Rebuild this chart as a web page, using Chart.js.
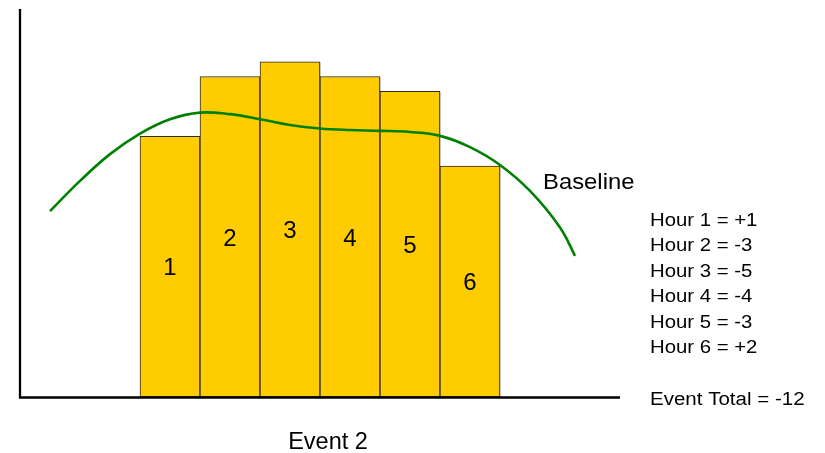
<!DOCTYPE html>
<html>
<head>
<meta charset="utf-8">
<script src="https://cdn.jsdelivr.net/npm/chart.js@4/dist/chart.umd.min.js"></script>
<style>
  html, body { margin: 0; padding: 0; background: #ffffff; }
  #wrap { width: 825px; height: 453px; position: relative; }
</style>
</head>
<body>
<div id="wrap"><canvas id="c" width="825" height="453"></canvas></div>
<script>
// Hourly load during the event, plotted on an hour axis (0..10)
const hourCenters = [2.5, 3.5, 4.5, 5.5, 6.5, 7.5];
const hourLoads   = [67.2, 82.6, 86.4, 82.6, 78.8, 59.5];
const barLabels   = ['1', '2', '3', '4', '5', '6'];

// Baseline load curve
const baselineX = [0.5, 1.0, 1.5, 2.0, 2.5, 3.0, 3.5, 4.0, 4.5, 5.0, 5.5, 6.0, 6.5, 7.0, 7.5, 8.0, 8.5, 9.0, 9.25];
const baselineY = [47.9, 55.7, 62.6, 67.9, 71.6, 73.3, 72.9, 71.6, 70.1, 69.2, 68.8, 68.6, 68.3, 67.3, 64.4, 59.8, 53.1, 43.7, 36.4];

// Per-hour deviation summary
const hourNames  = ['Hour 1', 'Hour 2', 'Hour 3', 'Hour 4', 'Hour 5', 'Hour 6'];
const hourDeltas = [1, -3, -5, -4, -3, 2];
const eventName  = 'Event 2';
const curveName  = 'Baseline';

const FONT = '"Liberation Sans", Arial, sans-serif';
const fmt = v => (v > 0 ? '+' + v : String(v));

const barData  = hourCenters.map((x, i) => ({ x, y: hourLoads[i] }));
const lineData = baselineX.map((x, i) => ({ x, y: baselineY[i] }));

// left-aligned text with a slight horizontal stretch
function wideText(ctx, text, x, y, sx) {
  ctx.save();
  ctx.translate(x, y);
  ctx.scale(sx, 1);
  ctx.fillText(text, 0, 0);
  ctx.restore();
}

const decorations = {
  id: 'decorations',
  beforeDatasetDraw(chart, args) {
    if (args.meta.type === 'bar') {
      const ctx = chart.ctx;
      ctx.save();
      ctx.shadowColor = 'rgba(0,0,0,0.35)';
      ctx.shadowOffsetX = 2;
      ctx.shadowOffsetY = 1;
      ctx.shadowBlur = 0;
    }
  },
  afterDatasetDraw(chart, args) {
    if (args.meta.type === 'bar') chart.ctx.restore();
  },
  afterDraw(chart) {
    const ctx = chart.ctx;
    const a = chart.chartArea;
    ctx.save();
    // axes
    ctx.strokeStyle = '#000000';
    ctx.lineWidth = 2.3;
    ctx.beginPath();
    ctx.moveTo(a.left, a.top);
    ctx.lineTo(a.left, a.bottom + 1);
    ctx.moveTo(a.left - 1, a.bottom + 0.5);
    ctx.lineTo(a.right, a.bottom + 0.5);
    ctx.stroke();

    ctx.fillStyle = '#000000';
    ctx.textBaseline = 'alphabetic';

    // hour numbers centred in each bar
    const barMeta = chart.getDatasetMeta(1);
    ctx.font = '24px ' + FONT;
    ctx.textAlign = 'center';
    barMeta.data.forEach((el, i) => {
      const mid = (el.y + el.base) / 2;
      ctx.fillText(barLabels[i], el.x, mid + 8.8);
    });

    // category label under the axis
    ctx.font = '23.5px ' + FONT;
    ctx.fillText(eventName, 328, 449.3);

    // curve label
    ctx.textAlign = 'left';
    ctx.font = '22.5px ' + FONT;
    wideText(ctx, curveName, 543, 188.5, 1.06);

    // deviation summary
    ctx.font = '18px ' + FONT;
    hourNames.forEach((n, i) => {
      wideText(ctx, n + ' = ' + fmt(hourDeltas[i]), 650, 226 + i * 25.4, 1.13);
    });
    const total = hourDeltas.reduce((s, v) => s + v, 0);
    wideText(ctx, 'Event Total = ' + fmt(total), 650, 405, 1.14);
    ctx.restore();
  }
};

new Chart(document.getElementById('c'), {
  data: {
    datasets: [
      {
        type: 'line',
        label: curveName,
        data: lineData,
        borderColor: '#008000',
        borderWidth: 2.6,
        pointRadius: 0,
        fill: false,
        tension: 0.4,
        order: 0
      },
      {
        type: 'bar',
        label: 'Hourly load',
        data: barData,
        backgroundColor: '#FFCC00',
        borderColor: '#2b2b2b',
        borderWidth: 1,
        borderSkipped: false,
        barPercentage: 1,
        categoryPercentage: 1,
        order: 1
      }
    ]
  },
  options: {
    responsive: false,
    animation: false,
    layout: { padding: { left: 20, right: 205, top: 9, bottom: 56 } },
    plugins: { legend: { display: false }, tooltip: { enabled: false } },
    scales: {
      x: { type: 'linear', min: 0, max: 10, offset: false, display: false },
      y: { type: 'linear', min: 0, max: 100, display: false }
    }
  },
  plugins: [decorations]
});
</script>
</body>
</html>
